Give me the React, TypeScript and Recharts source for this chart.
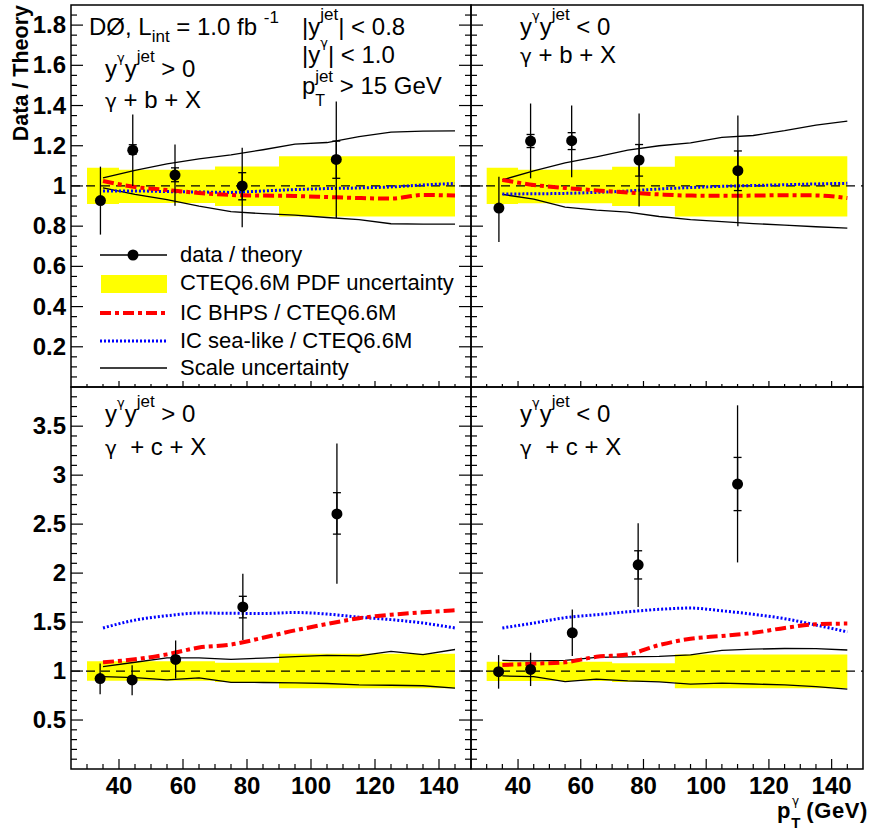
import React from "react";
import {
  ComposedChart,
  XAxis,
  YAxis,
  Line,
  Area,
  Scatter,
  ErrorBar,
  ReferenceLine,
  ReferenceArea,
} from "recharts";

const FONT = "'Liberation Sans', Arial, Helvetica, sans-serif";
const GREEK = "'DejaVu Sans', sans-serif";

// theory curves are sampled on this pT grid
const curveX = [35, 45, 55, 65, 75, 85, 95, 105, 115, 125, 135, 145];
// PDF uncertainty bins
const binEdges = [30, 40, 50, 70, 90, 145];

// gamma + b, y*y > 0
const bPosScaleUp = [1.04, 1.078, 1.11, 1.135, 1.155, 1.18, 1.208, 1.216, 1.245, 1.268, 1.273, 1.274];
const bPosScaleLo = [0.99, 0.958, 0.932, 0.9, 0.872, 0.862, 0.855, 0.843, 0.832, 0.812, 0.81, 0.81];
const bPosBhps = [1.025, 0.995, 0.98, 0.965, 0.955, 0.952, 0.95, 0.945, 0.94, 0.937, 0.955, 0.952];
const bPosSea = [0.975, 0.975, 0.972, 0.97, 0.968, 0.975, 0.982, 0.987, 0.99, 0.995, 1.005, 1.012];
const bPosPdfHi = [1.09, 1.08, 1.08, 1.097, 1.148];
const bPosPdfLo = [0.91, 0.915, 0.915, 0.9, 0.848];
const bPosX = [34.2, 44.3, 57.5, 78.5, 107.9];
const bPosY = [0.927, 1.178, 1.054, 1.0, 1.132];
const bPosTot = [[0.169, 0.169], [0.178, 0.177], [0.153, 0.152], [0.206, 0.19], [0.292, 0.288]];
const bPosStat = [[0.01, 0.01], [0.02, 0.027], [0.033, 0.036], [0.069, 0.066], [0.094, 0.091]];

// gamma + b, y*y < 0
const bNegScaleUp = [1.03, 1.075, 1.115, 1.145, 1.178, 1.2, 1.214, 1.242, 1.251, 1.275, 1.303, 1.322];
const bNegScaleLo = [0.958, 0.935, 0.895, 0.88, 0.87, 0.848, 0.832, 0.823, 0.813, 0.805, 0.797, 0.79];
const bNegBhps = [1.03, 1.005, 0.99, 0.978, 0.967, 0.958, 0.952, 0.951, 0.952, 0.954, 0.953, 0.94];
const bNegSea = [0.96, 0.961, 0.963, 0.968, 0.975, 0.985, 0.992, 0.998, 1.002, 1.006, 1.01, 1.013];
const bNegPdfHi = [1.09, 1.08, 1.08, 1.096, 1.148];
const bNegPdfLo = [0.91, 0.914, 0.914, 0.9, 0.848];
const bNegX = [33.9, 44.0, 57.1, 78.6, 110.1];
const bNegY = [0.89, 1.223, 1.225, 1.129, 1.076];
const bNegTot = [[0.169, 0.156], [0.185, 0.187], [0.182, 0.175], [0.231, 0.231], [0.276, 0.275]];
const bNegStat = [[0.01, 0.01], [0.032, 0.033], [0.044, 0.04], [0.08, 0.077], [0.099, 0.098]];

// gamma + c, y*y > 0
const cPosScaleUp = [1.045, 1.09, 1.135, 1.135, 1.12, 1.132, 1.148, 1.16, 1.155, 1.2, 1.168, 1.22];
const cPosScaleLo = [0.943, 0.932, 0.91, 0.93, 0.885, 0.883, 0.88, 0.873, 0.858, 0.855, 0.85, 0.825];
const cPosBhps = [1.09, 1.12, 1.17, 1.24, 1.27, 1.34, 1.415, 1.48, 1.54, 1.575, 1.6, 1.62];
const cPosSea = [1.44, 1.52, 1.565, 1.592, 1.59, 1.587, 1.598, 1.582, 1.55, 1.525, 1.49, 1.44];
const cPosPdfHi = [1.1, 1.1, 1.1, 1.085, 1.177];
const cPosPdfLo = [0.9, 0.9, 0.9, 0.888, 0.824];
const cPosX = [34.1, 44.1, 57.7, 78.7, 108.1];
const cPosY = [0.923, 0.909, 1.119, 1.655, 2.604];
const cPosTot = [[0.16, 0.155], [0.156, 0.149], [0.196, 0.193], [0.339, 0.339], [0.712, 0.719]];
const cPosStat = [[0.02, 0.02], [0.02, 0.02], [0.03, 0.03], [0.112, 0.108], [0.206, 0.217]];

// gamma + c, y*y < 0
const cNegScaleUp = [1.108, 1.103, 1.108, 1.14, 1.145, 1.15, 1.165, 1.212, 1.223, 1.23, 1.228, 1.215];
const cNegScaleLo = [0.95, 0.943, 0.892, 0.918, 0.9, 0.89, 0.866, 0.877, 0.868, 0.858, 0.84, 0.815];
const cNegBhps = [1.062, 1.075, 1.09, 1.145, 1.17, 1.265, 1.33, 1.358, 1.39, 1.44, 1.478, 1.485];
const cNegSea = [1.44, 1.49, 1.545, 1.575, 1.605, 1.63, 1.643, 1.615, 1.58, 1.535, 1.47, 1.4];
const cNegPdfHi = [1.096, 1.096, 1.096, 1.08, 1.17];
const cNegPdfLo = [0.898, 0.898, 0.898, 0.888, 0.824];
const cNegX = [33.8, 44.0, 57.3, 78.3, 110.0];
const cNegY = [0.994, 1.017, 1.39, 2.085, 2.909];
const cNegTot = [[0.174, 0.169], [0.17, 0.17], [0.237, 0.238], [0.43, 0.425], [0.8, 0.804]];
const cNegStat = [[0.02, 0.02], [0.02, 0.02], [0.03, 0.03], [0.145, 0.143], [0.271, 0.272]];

// axis ticks
const xMajor = [40, 60, 80, 100, 120, 140];
const xMinor = [30, 35, 40, 45, 50, 55, 60, 65, 70, 75, 80, 85, 90, 95, 100, 105, 110, 115, 120, 125, 130, 135, 140, 145];
const bMajor = [0.2, 0.4, 0.6, 0.8, 1, 1.2, 1.4, 1.6, 1.8];
const cMajor = [0.5, 1, 1.5, 2, 2.5, 3, 3.5];
const bMinor: number[] = [];
for (let i = 1; i <= 37; i++) bMinor.push(Number((i * 0.05).toFixed(2)));
const cMinor: number[] = [];
for (let i = 1; i <= 38; i++) cMinor.push(Number((i * 0.1).toFixed(1)));

function curveRows(up: number[], lo: number[], bhps: number[], sea: number[]) {
  return curveX.map((x, i) => ({ x, up: up[i], lo: lo[i], bhps: bhps[i], sea: sea[i] }));
}

function bandRows(hi: number[], lo: number[]) {
  return binEdges.map((x, i) => {
    const k = Math.min(i, hi.length - 1);
    return { x, band: [lo[k], hi[k]] };
  });
}

function pointRows(xs: number[], ys: number[], tot: number[][], stat: number[][]) {
  return xs.map((x, i) => ({ x, y: ys[i], tot: tot[i], stat: stat[i] }));
}

const isMajor = (v: number, major: number[]) => major.some((m) => Math.abs(m - v) < 1e-6);

function makeYTick(major: number[], showLabel: boolean, side: "left" | "right") {
  return (props: any) => {
    const { x, y, payload } = props;
    const v = payload.value;
    const mj = isMajor(v, major);
    const len = mj ? 12 : 6;
    const dir = side === "left" ? 1 : -1;
    return (
      <g>
        <line x1={x} y1={y} x2={x + dir * len} y2={y} stroke="#000" strokeWidth={1.2} />
        {showLabel && mj && (
          <text x={x - 5} y={y + 8} textAnchor="end" fontSize={24} fontWeight="bold" fontFamily={FONT} fill="#000">
            {String(v)}
          </text>
        )}
      </g>
    );
  };
}

function makeXTick(showLabel: boolean, majorLen: number) {
  return (props: any) => {
    const { x, y, payload } = props;
    const v = payload.value;
    const mj = isMajor(v, xMajor);
    const len = mj ? majorLen : majorLen / 2;
    return (
      <g>
        <line x1={x} y1={y} x2={x} y2={y - len} stroke="#000" strokeWidth={1.2} />
        {showLabel && mj && (
          <text x={x} y={y + 25} textAnchor="middle" fontSize={24} fontWeight="bold" fontFamily={FONT} fill="#000">
            {String(v)}
          </text>
        )}
      </g>
    );
  };
}

const dot = (props: any) => <circle cx={props.cx} cy={props.cy} r={5.5} fill="#000" />;

type PanelProps = {
  left: number;
  top: number;
  width: number;
  height: number;
  yAxisW: number;
  rightAxisW: number;
  marginTop: number;
  marginRight: number;
  xAxisH: number;
  yDomain: [number, number];
  yMajor: number[];
  yMinor: number[];
  yLabels: boolean;
  xLabels: boolean;
  xTickLen: number;
  curves: any[];
  band: any[];
  points: any[];
};

function Panel(p: PanelProps) {
  return (
    <div style={{ position: "absolute", left: p.left, top: p.top }}>
      <ComposedChart
        width={p.width}
        height={p.height}
        data={p.curves}
        margin={{ top: p.marginTop, right: p.marginRight, bottom: 0, left: 0 }}
      >
        <XAxis
          type="number"
          dataKey="x"
          domain={[25, 150]}
          allowDataOverflow
          ticks={xMinor}
          interval={0}
          height={p.xAxisH}
          axisLine={false}
          tickLine={false}
          tickSize={0}
          tickMargin={0}
          tick={makeXTick(p.xLabels, p.xTickLen)}
        />
        <YAxis
          type="number"
          domain={p.yDomain}
          allowDataOverflow
          ticks={p.yMinor}
          interval={0}
          width={p.yAxisW}
          axisLine={false}
          tickLine={false}
          tickSize={0}
          tickMargin={0}
          tick={makeYTick(p.yMajor, p.yLabels, "left")}
        />
        {p.rightAxisW > 0 && (
          <YAxis
            yAxisId="r"
            orientation="right"
            type="number"
            domain={p.yDomain}
            allowDataOverflow
            ticks={p.yMinor}
            interval={0}
            width={p.rightAxisW}
            axisLine={false}
            tickLine={false}
            tickSize={0}
            tickMargin={0}
            tick={makeYTick(p.yMajor, false, "right")}
          />
        )}
        <Area
          data={p.band}
          dataKey="band"
          type="stepAfter"
          fill="#ffff00"
          fillOpacity={1}
          stroke="none"
          isAnimationActive={false}
        />
        <ReferenceLine y={1} stroke="#000" strokeWidth={1.2} strokeDasharray="9 6" />
        <Line dataKey="up" type="linear" stroke="#000" strokeWidth={1.3} dot={false} isAnimationActive={false} />
        <Line dataKey="lo" type="linear" stroke="#000" strokeWidth={1.3} dot={false} isAnimationActive={false} />
        <Line
          dataKey="sea"
          type="monotone"
          stroke="#0000ff"
          strokeWidth={3}
          strokeDasharray="2 2"
          dot={false}
          isAnimationActive={false}
        />
        <Line
          dataKey="bhps"
          type="monotone"
          stroke="#ff0000"
          strokeWidth={4}
          strokeDasharray="11 4 4 4"
          dot={false}
          isAnimationActive={false}
        />
        <Scatter data={p.points} dataKey="y" shape={dot} isAnimationActive={false}>
          <ErrorBar dataKey="tot" direction="y" width={0} stroke="#000" strokeWidth={1.3} />
          <ErrorBar dataKey="stat" direction="y" width={4} stroke="#000" strokeWidth={1.3} />
        </Scatter>
        <ReferenceArea x1={25} x2={150} y1={p.yDomain[0]} y2={p.yDomain[1]} fill="none" stroke="#000" strokeWidth={1.5} />
      </ComposedChart>
    </div>
  );
}

const txt = { fontFamily: FONT, fill: "#000" };

function Overlay() {
  return (
    <svg width={872} height={837} style={{ position: "absolute", left: 0, top: 0, pointerEvents: "none" }}>
      {/* axis titles */}
      <text {...txt} transform="translate(28,5) rotate(-90)" textAnchor="end" fontSize={21.5} fontWeight="bold">
        Data / Theory
      </text>
      <text {...txt} x={868} y={818} textAnchor="end" fontSize={22} fontWeight="bold" letterSpacing={0.6}>
        p<tspan fontSize={15} dy={10}>T</tspan>
        <tspan fontSize={12} fontFamily={GREEK} fontWeight="normal" dx={-9} dy={-23}>γ</tspan>
        <tspan fontSize={22} dy={13}> (GeV)</tspan>
      </text>

      {/* top-left annotations */}
      <text {...txt} x={89} y={35} fontSize={24}>
        DØ, L<tspan fontSize={17} dy={7}>int</tspan>
        <tspan fontSize={24} dy={-7}> = 1.0 fb </tspan>
        <tspan fontSize={17} dy={-12}>-1</tspan>
      </text>
      <text {...txt} x={302} y={35} fontSize={24}>
        |y<tspan fontSize={17} dy={-15}>jet</tspan>
        <tspan fontSize={24} dy={15}>| &lt; 0.8</tspan>
      </text>
      <text {...txt} x={302} y={63} fontSize={24}>
        |y<tspan fontSize={13} fontFamily={GREEK} dy={-16}>γ</tspan>
        <tspan fontSize={24} dy={16}>| &lt; 1.0</tspan>
      </text>
      <text {...txt} x={302} y={94} fontSize={24}>
        p<tspan fontSize={16} dy={12}>T</tspan>
        <tspan fontSize={17} dx={-10} dy={-24}>jet</tspan>
        <tspan fontSize={24} dy={12}> &gt; 15 GeV</tspan>
      </text>

      {[
        { x: 105, y1: 77, y2: 108, sign: ">", q: "b" },
        { x: 520, y1: 35, y2: 63, sign: "<", q: "b" },
        { x: 105, y1: 422, y2: 455, sign: ">", q: "c" },
        { x: 520, y1: 422, y2: 455, sign: "<", q: "c" },
      ].map((a, i) => (
        <g key={i}>
          <text {...txt} x={a.x} y={a.y1} fontSize={24}>
            y<tspan fontSize={13} fontFamily={GREEK} dy={-15}>γ</tspan>
            <tspan fontSize={24} dy={15}>y</tspan>
            <tspan fontSize={17} dy={-15}>jet</tspan>
            <tspan fontSize={24} dy={15}>{` ${a.sign} 0`}</tspan>
          </text>
          <text {...txt} x={a.x} y={a.y2} fontSize={24} style={{ whiteSpace: "pre" }}>
            <tspan fontFamily={GREEK} fontSize={20}>γ</tspan>
            {a.q === "b" ? " + b + X" : "  + c + X"}
          </text>
        </g>
      ))}

      {/* legend */}
      <line x1={100} y1={255} x2={167} y2={255} stroke="#000" strokeWidth={1.3} />
      <circle cx={133} cy={255} r={5.5} fill="#000" />
      <text {...txt} x={180} y={262} fontSize={22}>data / theory</text>
      <rect x={101} y={275} width={66} height={18} fill="#ffff00" />
      <text {...txt} x={180} y={290} fontSize={22}>CTEQ6.6M PDF uncertainty</text>
      <line x1={100} y1={313} x2={165} y2={313} stroke="#ff0000" strokeWidth={4} strokeDasharray="11 4 4 4" />
      <text {...txt} x={180} y={320} fontSize={22}>IC BHPS / CTEQ6.6M</text>
      <line x1={100} y1={341} x2={167} y2={341} stroke="#0000ff" strokeWidth={3} strokeDasharray="2 2" />
      <text {...txt} x={180} y={348} fontSize={22}>IC sea-like / CTEQ6.6M</text>
      <line x1={100} y1={368} x2={167} y2={368} stroke="#000" strokeWidth={1.3} />
      <text {...txt} x={180} y={375} fontSize={22}>Scale uncertainty</text>
    </svg>
  );
}

export default function App() {
  return (
    <div style={{ position: "absolute", left: 0, top: 0, width: 872, height: 837, background: "#fff" }}>
      <Panel
        left={0}
        top={0}
        width={481}
        height={397}
        yAxisW={71}
        rightAxisW={10}
        marginTop={5}
        marginRight={0}
        xAxisH={10}
        yDomain={[0, 1.9]}
        yMajor={bMajor}
        yMinor={bMinor}
        yLabels
        xLabels={false}
        xTickLen={6}
        curves={curveRows(bPosScaleUp, bPosScaleLo, bPosBhps, bPosSea)}
        band={bandRows(bPosPdfHi, bPosPdfLo)}
        points={pointRows(bPosX, bPosY, bPosTot, bPosStat)}
      />
      <Panel
        left={461}
        top={0}
        width={411}
        height={397}
        yAxisW={10}
        rightAxisW={0}
        marginTop={5}
        marginRight={9}
        xAxisH={10}
        yDomain={[0, 1.9]}
        yMajor={bMajor}
        yMinor={bMinor}
        yLabels={false}
        xLabels={false}
        xTickLen={6}
        curves={curveRows(bNegScaleUp, bNegScaleLo, bNegBhps, bNegSea)}
        band={bandRows(bNegPdfHi, bNegPdfLo)}
        points={pointRows(bNegX, bNegY, bNegTot, bNegStat)}
      />
      <Panel
        left={0}
        top={377}
        width={481}
        height={452}
        yAxisW={71}
        rightAxisW={10}
        marginTop={10}
        marginRight={0}
        xAxisH={60}
        yDomain={[0, 3.9]}
        yMajor={cMajor}
        yMinor={cMinor}
        yLabels
        xLabels
        xTickLen={10}
        curves={curveRows(cPosScaleUp, cPosScaleLo, cPosBhps, cPosSea)}
        band={bandRows(cPosPdfHi, cPosPdfLo)}
        points={pointRows(cPosX, cPosY, cPosTot, cPosStat)}
      />
      <Panel
        left={461}
        top={377}
        width={411}
        height={452}
        yAxisW={10}
        rightAxisW={0}
        marginTop={10}
        marginRight={9}
        xAxisH={60}
        yDomain={[0, 3.9]}
        yMajor={cMajor}
        yMinor={cMinor}
        yLabels={false}
        xLabels
        xTickLen={10}
        curves={curveRows(cNegScaleUp, cNegScaleLo, cNegBhps, cNegSea)}
        band={bandRows(cNegPdfHi, cNegPdfLo)}
        points={pointRows(cNegX, cNegY, cNegTot, cNegStat)}
      />
      <Overlay />
    </div>
  );
}
